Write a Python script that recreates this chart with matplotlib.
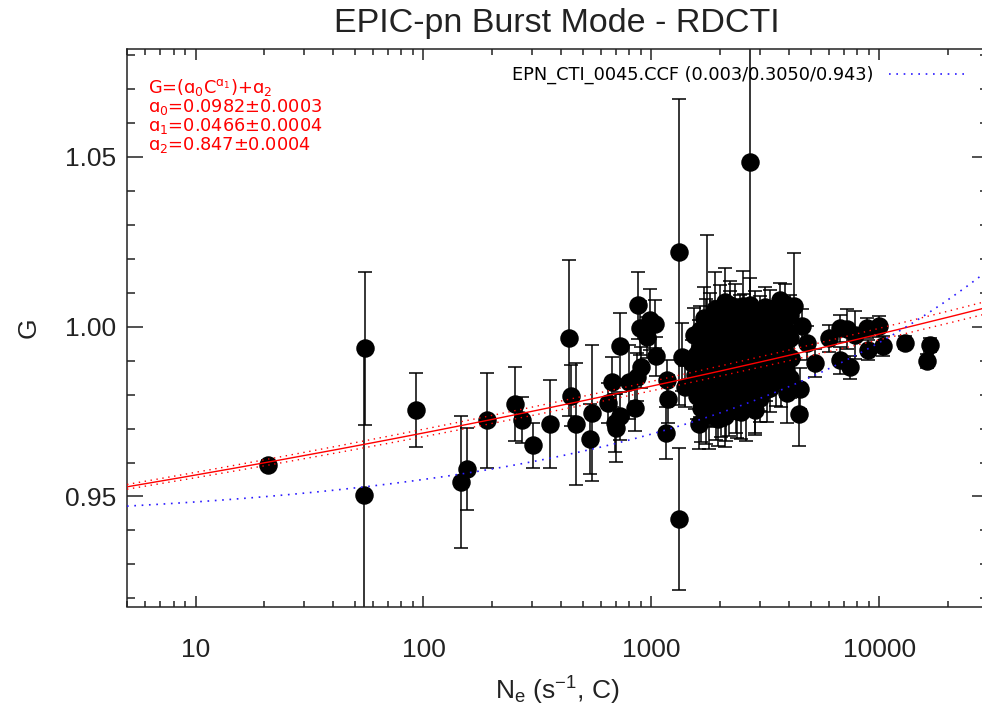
import numpy as np
import matplotlib.pyplot as plt
from matplotlib.ticker import LogLocator, MultipleLocator, NullFormatter

plt.rcParams['font.family'] = ['Liberation Sans', 'DejaVu Sans']
plt.rcParams['mathtext.default'] = 'regular'

# fitted relation G = a0 * C**a1 + a2
a0, a1, a2 = 0.0982, 0.0466, 0.847
# curve of the calibration file (printed as 0.003/0.3050/0.943)
ccf_a, ccf_b, ccf_c = 0.00322, 0.305, 0.9419
ccf_label = 'EPN_CTI_0045.CCF (0.003/0.3050/0.943)'

# isolated points
ne_low = [20.8, 55.5, 55.0, 93, 146, 155, 190, 252, 270, 303, 358, 437, 446,
          469, 551, 540, 673, 646, 695, 702, 726, 730, 795, 851, 871, 895,
          984, 1033, 957, 1045, 901, 865, 1172, 1184, 1164, 1328, 1318, 2699,
          1754, 4207, 2512, 1618, 2858, 4446, 4475, 5236, 4819, 4580, 5998,
          6745, 7214, 6698, 7413, 8831, 10023, 10370, 8900, 13030, 16750,
          16200, 7853, 1365, 1409, 1507]
g_low = [0.9593, 0.9936, 0.9505, 0.9755, 0.9543, 0.9581, 0.9725, 0.9772,
         0.9725, 0.9651, 0.9714, 0.9966, 0.9797, 0.9713, 0.9745, 0.9668,
         0.9837, 0.9775, 0.9717, 0.9702, 0.9943, 0.9737, 0.9837, 0.9762,
         1.0063, 0.9996, 1.0021, 1.0008, 0.9969, 0.9913, 0.9880, 0.9852,
         0.9842, 0.9787, 0.9688, 1.0220, 0.9434, 1.0485, 1.0019, 1.0061,
         1.0061, 0.9713, 0.9754, 0.9742, 0.9817, 0.9893, 0.9951, 1.0001,
         0.9966, 0.9996, 0.9993, 0.9901, 0.9880, 0.9996, 1.0001, 0.9943,
         0.9931, 0.9953, 0.9946, 0.9899, 0.9976, 0.9911, 0.9823, 0.9892]
e_low = [0.0015, 0.0225, 0.043, 0.011, 0.0195, 0.012, 0.014, 0.0108, 0.0067,
         0.0066, 0.013, 0.023, 0.009, 0.018, 0.020, 0.0103, 0.0073, 0.006,
         0.0085, 0.010, 0.0096, 0.007, 0.011, 0.007, 0.0098, 0.008, 0.009,
         0.0071, 0.006, 0.0058, 0.006, 0.007, 0.006, 0.007, 0.0077, 0.045,
         0.021, 0.050, 0.025, 0.0157, 0.0104, 0.0072, 0.0072, 0.0093, 0.006,
         0.004, 0.005, 0.005, 0.004, 0.004, 0.0058, 0.004, 0.0033, 0.003,
         0.003, 0.003, 0.003, 0.002, 0.002, 0.002, 0.007, 0.010, 0.006, 0.007]

# dense group between ~1500 and ~4100 s-1
ne_mid = [1540, 1575, 1552, 1590,
          1710, 1745, 1722, 1698, 1760, 1735,
          1895, 1930, 1902, 1948, 1880, 1915, 1960,
          2095, 2140, 2110, 2085, 2160, 2125, 2100,
          2320, 2365, 2340, 2300, 2355, 2380,
          2560, 2610, 2575, 2540, 2600,
          2840, 2880, 2820, 2905, 2850,
          3140, 3190, 3120, 3175, 3210,
          3480, 3520, 3450, 3540,
          3850, 3900, 3820, 3880, 3940,
          1640, 1625, 1655, 1632, 1648,
          1815, 1800, 1830, 1808, 1822, 1795,
          2009, 2025, 1990, 2015, 2000, 2030,
          2220, 2205, 2240, 2212, 2230, 2198,
          2455, 2470, 2440, 2462, 2448, 2480,
          2716, 2700, 2735, 2722, 2708,
          3004, 2985, 3020, 3010, 2995,
          3323, 3340, 3305, 3330, 3315,
          3681, 3660, 3700, 3672, 3690,
          4073, 4050, 4090, 4060]
g_mid = [0.9976, 0.9916, 0.9857, 0.9797,
         1.0027, 0.9961, 0.9901, 0.9842, 0.9788, 0.9746,
         1.0051, 0.9997, 0.9937, 0.9878, 0.9818, 0.9767, 0.9728,
         1.0072, 1.0015, 0.9946, 0.9887, 0.9827, 0.9782, 0.9737,
         1.0045, 0.9982, 0.9916, 0.9857, 0.9797, 0.9752,
         1.0006, 0.9946, 0.9887, 0.9827, 0.9782,
         1.0036, 0.9976, 0.9916, 0.9857, 0.9797,
         1.0057, 0.9997, 0.9931, 0.9872, 0.9818,
         1.0027, 0.9961, 0.9901, 0.9848,
         1.0066, 0.9991, 0.9931, 0.9872, 0.9806,
         0.9990, 0.9931, 0.9872, 0.9813, 0.9760,
         1.0020, 0.9961, 0.9902, 0.9843, 0.9784, 0.9740,
         1.0034, 0.9976, 0.9917, 0.9858, 0.9799, 0.9755,
         1.0064, 1.0005, 0.9946, 0.9887, 0.9828, 0.9769,
         1.0034, 0.9976, 0.9917, 0.9858, 0.9799, 0.9749,
         1.0064, 1.0005, 0.9946, 0.9887, 0.9828,
         1.0020, 0.9961, 0.9902, 0.9843, 0.9790,
         1.0049, 0.9990, 0.9931, 0.9872, 0.9819,
         1.0079, 1.0020, 0.9961, 0.9902, 0.9843,
         1.0034, 0.9966, 0.9908, 0.9849]
e_mid = [0.008, 0.006, 0.010, 0.007,
         0.009, 0.012, 0.007, 0.010, 0.008, 0.009,
         0.011, 0.008, 0.006, 0.012, 0.009, 0.010, 0.008,
         0.010, 0.007, 0.011, 0.006, 0.009, 0.012, 0.009,
         0.008, 0.010, 0.007, 0.009, 0.011, 0.008,
         0.009, 0.006, 0.010, 0.008, 0.012,
         0.007, 0.009, 0.006, 0.010, 0.011,
         0.006, 0.008, 0.007, 0.009, 0.010,
         0.005, 0.007, 0.006, 0.008,
         0.006, 0.007, 0.005, 0.008, 0.009,
         0.007, 0.009, 0.006, 0.008, 0.010,
         0.008, 0.006, 0.009, 0.007, 0.008, 0.010,
         0.009, 0.007, 0.008, 0.006, 0.009, 0.008,
         0.007, 0.010, 0.006, 0.008, 0.007, 0.009,
         0.006, 0.008, 0.009, 0.007, 0.006, 0.008,
         0.008, 0.006, 0.007, 0.009, 0.008,
         0.007, 0.008, 0.006, 0.009, 0.007,
         0.006, 0.007, 0.008, 0.006, 0.007,
         0.005, 0.006, 0.007, 0.006, 0.008,
         0.006, 0.005, 0.007, 0.006]

ne = np.array(ne_low + ne_mid)
gain = np.array(g_low + g_mid)
gerr = np.array(e_low + e_mid)

fig = plt.figure(figsize=(9.82, 7.12), dpi=100)
ax = fig.add_axes([127 / 982, 105.5 / 712, 861 / 982, 557.5 / 712])

ax.errorbar(ne, gain, yerr=gerr, fmt='o', color='black', ms=12.3,
            elinewidth=1.1, capsize=5, capthick=1.1, zorder=2)

xx = np.logspace(np.log10(5), np.log10(30000), 400)
fit = a0 * xx ** a1 + a2
hw = 0.0007 + 0.0003 * (np.log10(xx) - 0.7)
ax.plot(xx, fit, color='red', lw=1.0, zorder=4)
ax.plot(xx, fit + hw, color='red', lw=1.0, ls=(0, (1, 3.3)), zorder=4)
ax.plot(xx, fit - hw, color='red', lw=1.0, ls=(0, (1, 3.3)), zorder=4)
ax.plot(xx, ccf_a * xx ** ccf_b + ccf_c, color='#2a1aff', lw=1.2,
        ls=(0, (1, 3.4)), zorder=4, label=ccf_label)

ax.set_xscale('log')
ax.set_xlim(5, 30000)
ax.set_ylim(0.9176, 1.0818)
ax.set_xticks([10, 100, 1000, 10000], labels=['10', '100', '1000', '10000'])
ax.xaxis.set_minor_locator(LogLocator(base=10, subs=np.arange(2, 10)))
ax.xaxis.set_minor_formatter(NullFormatter())
ax.set_yticks([0.95, 1.00, 1.05], labels=['0.95', '1.00', '1.05'])
ax.yaxis.set_minor_locator(MultipleLocator(0.01))

ax.tick_params(which='both', direction='in', top=True, right=True,
               width=1.1, color='#222222', labelsize=19, labelcolor='#222222')
ax.tick_params(axis='x', which='major', length=8, pad=23)
ax.tick_params(axis='x', which='minor', length=4.3)
ax.tick_params(axis='y', which='major', length=11.5, pad=8)
ax.tick_params(axis='y', which='minor', length=5.8)
for s in ax.spines.values():
    s.set_linewidth(1.1)
    s.set_color('#222222')

ax.set_xlabel(r'N$_e$ (s$^{-1}$, C)', fontsize=19, color='#222222')
ax.xaxis.set_label_coords(0.5, -0.123)
ax.set_ylabel('G', fontsize=19, color='#222222')
ax.yaxis.set_label_coords(-0.10, 0.5)

fig.text(557 / 982, 1 - 32 / 712, 'EPIC-pn Burst Mode - RDCTI', fontsize=24.5,
         ha='center', va='baseline', color='#222222')

red_lines = [r'G=(ɑ$_0$C$^{ɑ_1}$)+ɑ$_2$', 'ɑ$_0$=0.0982±0.0003',
             'ɑ$_1$=0.0466±0.0004', 'ɑ$_2$=0.847±0.0004']
for i, t in enumerate(red_lines):
    fig.text(148 / 982, 1 - (92.5 + 19.2 * i) / 712, t, color='red',
             fontsize=12.8, family='DejaVu Sans', va='baseline')

ax.legend(loc='center right', bbox_to_anchor=(965 / 982, 1 - 75 / 712),
          bbox_transform=fig.transFigure, markerfirst=False, frameon=False,
          borderpad=0, borderaxespad=0, handlelength=4.3, handletextpad=0.85,
          prop={'family': 'DejaVu Sans', 'size': 12.8})

fig.savefig('out.png', dpi=100)
